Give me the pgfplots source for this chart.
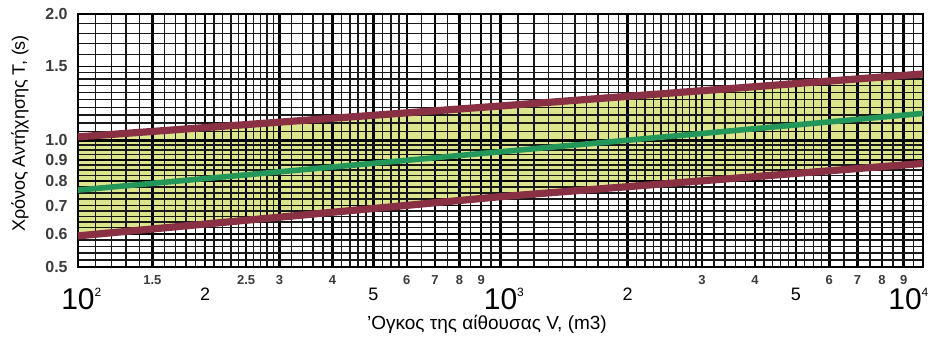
\documentclass[border=0pt]{standalone}
\usepackage{fontspec}
\setmainfont{Liberation Sans}
\usepackage{pgfplots}
\usepackage{pgfplotstable}
\pgfplotsset{compat=1.18}
\usepgfplotslibrary{fillbetween}
\definecolor{bandred}{RGB}{138,48,68}
\definecolor{midgreen}{RGB}{35,150,90}
\definecolor{bandfill}{RGB}{220,228,140}
\definecolor{ticklab}{RGB}{60,60,60}
\tikzset{
  smalllab/.style={font=\fontsize{6.5}{7}\selectfont\bfseries, text=ticklab, inner sep=0pt},
  medlab/.style={font=\fontsize{9}{10}\selectfont, inner sep=0pt},
  biglab/.style={font=\fontsize{15}{17}\selectfont, inner sep=0pt, anchor=base},
}

\pgfplotstableread{
V      upper  mid    lower
100    1.02   0.762  0.593
1000   1.208  0.94   0.735
10000  1.44   1.16   0.882
}\rtdata

\begin{document}
\begin{tikzpicture}
\begin{axis}[
  at={(0,0)}, anchor=south west,
  scale only axis, width=422.5pt, height=126.5pt,
  xmode=log, ymode=log,
  xmin=100, xmax=10000, ymin=0.5, ymax=2,
  set layers,
  clip=false,
  axis line style={line width=1.1pt, black},
  xtick={100,150,200,250,300,400,500,600,700,800,900,1000,2000,3000,4000,5000,6000,7000,8000,9000,10000},
  xticklabel={\mbox{}},
  minor xtick={110,120,130,140,160,170,180,190,210,220,230,240,260,270,280,290,
    320,340,360,380,420,440,460,480,525,550,575,650,750,850,950,
    1100,1200,1300,1400,1500,1600,1700,1800,1900,2100,2200,2300,2400,2500,2600,2700,2800,2900,
    3200,3400,3600,3800,4200,4400,4600,4800,5250,5500,5750,6500,7500,8500,9500},
  ytick={0.5,0.6,0.7,0.8,0.9,1.0,1.5,2.0},
  yticklabels={0.5,0.6,0.7,0.8,0.9,1.0,1.5,2.0},
  minor ytick={0.52,0.54,0.56,0.58,0.62,0.64,0.66,0.68,0.725,0.75,0.775,0.825,0.85,0.875,
    0.925,0.95,0.975,1.05,1.1,1.15,1.2,1.25,1.3,1.35,1.4,1.45,1.6,1.7,1.8,1.9},
  extra y ticks={1},
  extra y tick labels={},
  extra y tick style={major y grid style={line width=1.5pt, black}},
  grid=both,
  major x grid style={line width=1.25pt, black},
  major y grid style={line width=0.8pt, black},
  minor x grid style={line width=0.7pt, black!90},
  minor y grid style={line width=0.7pt, black!90},
  major tick length=0pt, minor tick length=0pt,
  yticklabel style={font=\fontsize{8}{9}\selectfont\bfseries, text=ticklab, inner sep=0pt, xshift=-5pt},
]
\addplot[name path=up, draw=bandred, line width=3.6pt] table[x=V, y=upper] {\rtdata};
\addplot[name path=lo, draw=bandred, line width=3.6pt] table[x=V, y=lower] {\rtdata};
\addplot[bandfill] fill between[of=up and lo, on layer=axis background];
\addplot[draw=midgreen, line width=2.8pt] table[x=V, y=mid] {\rtdata};

% small tick labels
\foreach \v/\t in {150/1.5,250/2.5,300/3,400/4,600/6,700/7,800/8,900/9,3000/3,4000/4,6000/6,7000/7,8000/8,9000/9}{
  \edef\temp{\noexpand\node[smalllab] at ([yshift=-6.5pt]axis cs:\v,0.5) {\t};}
  \temp
}
% medium tick labels
\foreach \v/\t in {200/2,500/5,2000/2,5000/5}{
  \edef\temp{\noexpand\node[medlab] at ([yshift=-13.5pt]axis cs:\v,0.5) {\t};}
  \temp
}
% decade labels
\node[biglab] at ([yshift=-21.4pt]axis cs:100,0.5) {10\rlap{\raisebox{6.4pt}{\fontsize{6}{7}\selectfont 2}}};
\node[biglab] at ([yshift=-21.4pt]axis cs:1000,0.5) {10\rlap{\raisebox{6.4pt}{\fontsize{6}{7}\selectfont 3}}};
\node[biglab] at ([yshift=-21.4pt, xshift=-9pt]axis cs:10000,0.5) {10\rlap{\raisebox{6.4pt}{\fontsize{6}{7}\selectfont 4}}};
% axis titles
\node[font=\fontsize{9.5}{11}\selectfont, inner sep=0pt, anchor=base] at ([yshift=-31.5pt]rel axis cs:0.484,0) {’Ογκος της αίθουσας V, (m3)};
\node[font=\fontsize{9}{11}\selectfont, inner sep=0pt, rotate=90] at ([xshift=-29pt, yshift=3.5pt]rel axis cs:0,0.5) {Χρόνος Αντήχησης T, (s)};
\end{axis}
\pgfresetboundingbox
\path[use as bounding box] (-39pt,-36.5pt) rectangle (428.5pt,133.5pt);
\end{tikzpicture}
\end{document}
